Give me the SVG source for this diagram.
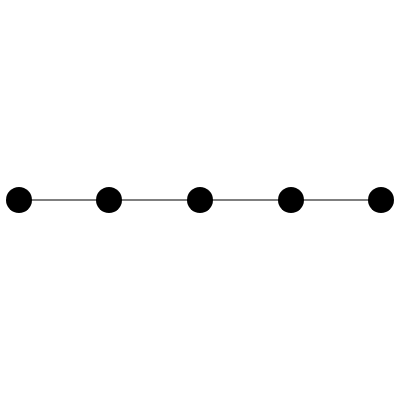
<svg xmlns="http://www.w3.org/2000/svg" width="400" height="400" viewBox="0 0 400 400">
<style>.n{fill:#000}.e{stroke:#000;stroke-width:1.2}</style>
<rect width="400" height="400" fill="#fff"/>
<g id="connectors">
<line class="e" x1="19" y1="200" x2="109" y2="200"/>
<line class="e" x1="109" y1="200" x2="200" y2="200"/>
<line class="e" x1="200" y1="200" x2="291" y2="200"/>
<line class="e" x1="291" y1="200" x2="381" y2="200"/>
</g>
<g id="n1"><circle class="n" cx="19" cy="200" r="13"/></g>
<g id="n2"><circle class="n" cx="109" cy="200" r="13"/></g>
<g id="n3"><circle class="n" cx="200" cy="200" r="13"/></g>
<g id="n4"><circle class="n" cx="291" cy="200" r="13"/></g>
<g id="n5"><circle class="n" cx="381" cy="200" r="13"/></g>
</svg>
